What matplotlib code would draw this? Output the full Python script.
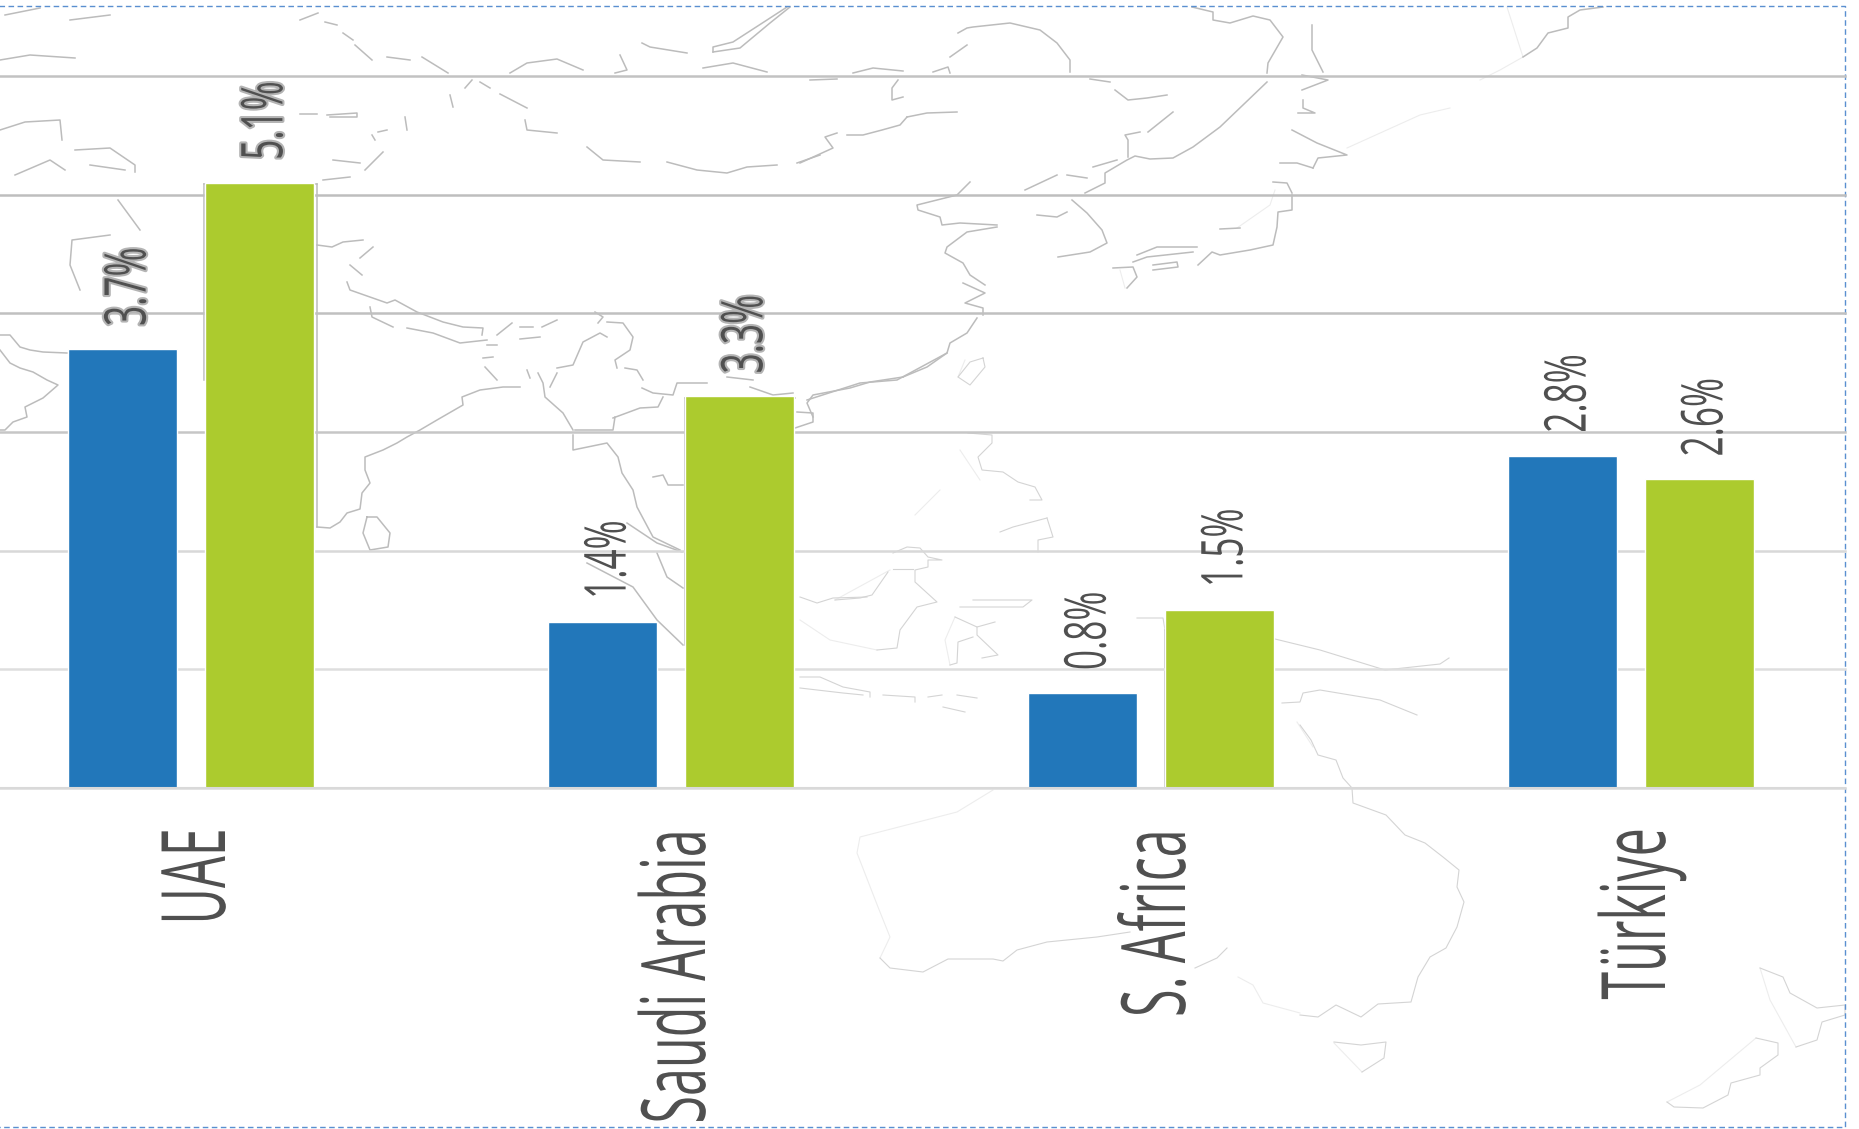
import numpy as np
import matplotlib
matplotlib.use("Agg")
import matplotlib.pyplot as plt
from matplotlib.patheffects import AbstractPathEffect
from matplotlib.transforms import Affine2D

countries = ["UAE", "Saudi Arabia", "S. Africa", "Türkiye"]
series_blue = [3.7, 1.4, 0.8, 2.8]
series_green = [5.1, 3.3, 1.5, 2.6]
y_ticks = [0, 1, 2, 3, 4, 5, 6]

BLUE = "#2277ba"
GREEN = "#accb2e"
TEXT = "#505050"
GRID_COLORS = ["#dcdcdc", "#dedede", "#d8d8d8", "#c6c6c6", "#c0c0c0", "#bebebe", "#c2c2c2"]

W, H = 1859, 1129

# coastlines behind the bars, in pixels of the figure
map_dark = [
    [(0, 335), (10, 335), (20, 347), (30, 350), (43, 352), (67, 353)],
    [(0, 350), (10, 363), (20, 368), (33, 372), (47, 380), (58, 385), (43, 398), (25, 407), (27, 417), (13, 422), (5, 430), (0, 430)],
    [(204, 184), (204, 380)], [(317, 184), (317, 527)], [(204, 184), (317, 184)],
    [(317, 527), (330, 528), (340, 522), (347, 513), (360, 509), (362, 493), (370, 483), (365, 470), (365, 457), (383, 450), (397, 443), (407, 437), (420, 430), (437, 420), (463, 405), (462, 397), (480, 390), (503, 387), (520, 387)],
    [(367, 517), (377, 517), (390, 533), (388, 547), (370, 550), (363, 533), (367, 517)],
    [(300, 20), (318, 13)], [(325, 22), (337, 25)], [(343, 33), (353, 40)], [(355, 45), (372, 60)],
    [(387, 57), (410, 60)], [(422, 57), (448, 73)], [(510, 73), (527, 63), (557, 59), (583, 70)],
    [(620, 55), (627, 70), (615, 73)], [(642, 43), (650, 47), (687, 53)],
    [(713, 52), (740, 48), (770, 23), (790, 7)], [(713, 52), (713, 47), (733, 42), (767, 20), (787, 7)],
    [(703, 68), (733, 63), (767, 72)], [(465, 88), (472, 80)], [(480, 82), (490, 88)], [(450, 95), (453, 107)],
    [(500, 94), (527, 108)], [(525, 120), (527, 130), (557, 133)], [(587, 147), (603, 160), (640, 162)],
    [(667, 162), (697, 170), (727, 173), (747, 167), (777, 165)], [(797, 163), (820, 155)],
    [(300, 114), (317, 114)], [(327, 115), (357, 113), (357, 117), (330, 117)], [(405, 117), (407, 130)],
    [(372, 135), (375, 140)], [(378, 132), (387, 130)], [(333, 160), (360, 163)], [(365, 170), (383, 152)],
    [(323, 180), (350, 177)], [(90, 165), (125, 170)], [(5, 15), (40, 8)], [(70, 20), (110, 15)],
    [(0, 60), (30, 55), (75, 58)], [(0, 130), (25, 122), (60, 120), (62, 140)], [(75, 150), (110, 148), (135, 165), (135, 172)],
    [(15, 175), (50, 160), (65, 170)], [(118, 200), (140, 230)], [(80, 290), (70, 265), (72, 240), (110, 235)],
    [(317, 245), (332, 247), (343, 242), (363, 240)], [(360, 258), (373, 247)], [(350, 265), (362, 275)],
    [(347, 282), (350, 290), (387, 303), (395, 300), (417, 312), (443, 322), (463, 327), (483, 328), (482, 335)],
    [(370, 307), (372, 317), (393, 327)], [(407, 328), (433, 333), (460, 343), (487, 340)], [(497, 335), (512, 323)],
    [(520, 327), (533, 327)], [(542, 327), (557, 320)], [(520, 339), (540, 337)], [(487, 345), (497, 345)],
    [(557, 368), (573, 365), (583, 342), (600, 333), (607, 337)], [(595, 312), (603, 317), (598, 323)],
    [(607, 322), (623, 323), (633, 337), (630, 350), (615, 360), (617, 368)], [(625, 368), (637, 370), (643, 380)],
    [(642, 388), (653, 393), (673, 395), (677, 383), (707, 383)], [(727, 377), (753, 380)], [(750, 387), (773, 395), (793, 393)],
    [(483, 358), (493, 357)], [(485, 367), (497, 380)], [(527, 370), (530, 378)],
    [(538, 373), (543, 383), (545, 397), (563, 413), (573, 430)], [(550, 387), (557, 373)],
    [(613, 418), (640, 408), (658, 407), (663, 397)],
    [(575, 430), (613, 430), (615, 417)],
    [(573, 435), (573, 450), (607, 443), (618, 457), (622, 473), (633, 490), (637, 507), (653, 537), (680, 550)],
    [(657, 553), (667, 577), (683, 588)], [(587, 563), (633, 587), (657, 620), (683, 645)], [(627, 523), (657, 543), (682, 552)],
    [(653, 477), (663, 475), (668, 485), (683, 485)], [(685, 398), (685, 645)], [(685, 398), (795, 398)],
    [(795, 428), (813, 422), (813, 413), (797, 412)], [(807, 400), (860, 383), (897, 380), (947, 353), (950, 343), (967, 333), (977, 318)],
    [(1192, 7), (1213, 12), (1213, 20), (1230, 23), (1253, 16), (1270, 20), (1283, 37), (1268, 63), (1267, 73)],
    [(1267, 82), (1220, 127), (1193, 147), (1173, 158), (1150, 159), (1135, 156), (1127, 160), (1105, 173), (1105, 183), (1085, 193)],
    [(1128, 157), (1128, 140), (1125, 135), (1140, 132)], [(1148, 132), (1173, 112)], [(1115, 90), (1128, 100), (1147, 98), (1167, 95)],
    [(1090, 79), (1110, 82)], [(958, 33), (967, 28), (973, 27), (1010, 23), (1040, 30), (1057, 43), (1070, 60), (1070, 72)],
    [(950, 57), (967, 45)], [(933, 72), (948, 67), (950, 73)], [(853, 73), (873, 68), (903, 71)], [(810, 80), (837, 79)],
    [(898, 80), (892, 88), (892, 100), (903, 97)], [(907, 117), (927, 113), (957, 112)],
    [(907, 117), (900, 125), (882, 130), (863, 135), (847, 135)], [(837, 133), (825, 137), (833, 148), (800, 163)],
    [(970, 182), (957, 195), (917, 205), (918, 210), (940, 217), (942, 225), (960, 223), (997, 225)],
    [(997, 227), (967, 232), (947, 247), (945, 253), (963, 263), (970, 275), (985, 285)],
    [(963, 283), (985, 293), (965, 303), (983, 308), (983, 315)],
    [(903, 377), (870, 382), (850, 388), (813, 395), (807, 403), (813, 417)], [(947, 353), (927, 367), (903, 377)],
    [(1072, 200), (1087, 213), (1102, 230), (1107, 243), (1090, 252), (1058, 257)],
    [(1037, 215), (1057, 217), (1067, 212)], [(1025, 190), (1057, 175)], [(1067, 175), (1087, 178)], [(1093, 167), (1117, 160)],
    [(1292, 195), (1292, 210), (1278, 212), (1277, 227), (1273, 245), (1250, 250), (1220, 255), (1212, 252), (1198, 265)],
    [(1193, 252), (1147, 257), (1133, 262)], [(1197, 247), (1157, 247), (1137, 255)],
    [(1113, 268), (1133, 267), (1137, 277), (1127, 288)], [(1153, 270), (1178, 267), (1177, 262), (1153, 265)],
    [(1220, 229), (1240, 228)], [(1273, 182), (1287, 183), (1292, 193)],
    [(1312, 25), (1312, 50), (1323, 72)], [(1302, 75), (1328, 80), (1302, 90)], [(1303, 100), (1303, 108), (1315, 113), (1298, 113)],
    [(1292, 130), (1317, 143), (1347, 155), (1318, 158), (1313, 168)], [(1280, 163), (1297, 163), (1313, 168)],
    [(1603, 7), (1580, 10), (1568, 17), (1568, 28), (1548, 33), (1537, 48), (1523, 57)],
    [(1165, 630), (1165, 787)], [(1130, 787), (1130, 770), (1100, 770)],
]
map_mid = [
    [(983, 358), (970, 362), (958, 377), (970, 385), (985, 367), (983, 358)],
    [(968, 433), (992, 435), (992, 443), (978, 457), (982, 470), (1003, 472), (1018, 482), (1035, 487), (1042, 500), (1030, 500)],
    [(1047, 518), (1053, 537), (1038, 540), (1038, 552)], [(1000, 532), (1013, 527), (1047, 518)],
    [(893, 553), (907, 547), (920, 548), (928, 557), (942, 560), (928, 560), (928, 567), (915, 570), (915, 582), (937, 602), (917, 607), (900, 630), (897, 648), (877, 650)],
    [(893, 569), (913, 569)], [(888, 572), (872, 595), (860, 598), (835, 600)], [(800, 597), (817, 603), (833, 598), (867, 597)],
    [(960, 607), (1023, 607), (1032, 600), (973, 600)], [(955, 617), (977, 627), (995, 622)],
    [(977, 627), (977, 635), (998, 655), (982, 658)], [(973, 637), (958, 642), (957, 663), (950, 665)],
    [(800, 677), (820, 677), (843, 687), (870, 692), (870, 697)], [(800, 688), (843, 693), (863, 695)],
    [(883, 695), (915, 697), (915, 702)], [(928, 697), (942, 695)], [(957, 695), (977, 698)], [(943, 707), (965, 712)],
    [(1137, 618), (1163, 618), (1165, 630)], [(1275, 639), (1320, 650), (1385, 670), (1440, 664), (1449, 658)],
    [(1282, 703), (1300, 702), (1303, 693), (1320, 690), (1380, 700), (1417, 715)],
    [(1300, 725), (1311, 740), (1318, 755), (1336, 760), (1343, 778), (1352, 788), (1353, 803), (1386, 815), (1405, 835), (1425, 843), (1443, 857), (1459, 870), (1457, 887), (1464, 902), (1457, 927), (1446, 948), (1430, 957), (1418, 977), (1411, 1002), (1378, 1004), (1361, 1017), (1336, 1005), (1318, 1017), (1300, 1015)],
    [(1227, 948), (1217, 958), (1195, 968)],
    [(880, 958), (890, 968), (923, 972), (948, 959), (993, 959), (1003, 961), (1017, 950), (1047, 942), (1097, 937), (1130, 932)],
    [(1667, 1102), (1674, 1107), (1703, 1108), (1728, 1095), (1731, 1083), (1760, 1075), (1760, 1068), (1778, 1055), (1778, 1043), (1756, 1038)],
    [(1760, 968), (1783, 977), (1790, 993), (1817, 1008), (1845, 1005), (1845, 1015), (1822, 1022), (1817, 1040), (1796, 1047)],
    [(1334, 1042), (1361, 1045), (1386, 1042), (1384, 1058), (1362, 1072)],
]
map_faint = [
    [(880, 958), (890, 937), (878, 907), (857, 853), (860, 837), (957, 812), (993, 790)],
    [(1238, 977), (1253, 985), (1263, 1003), (1300, 1013)],
    [(1297, 722), (1313, 747)],
    [(1334, 1043), (1362, 1072)],
    [(1507, 7), (1523, 57), (1500, 70), (1480, 80)],
    [(1347, 148), (1420, 115), (1450, 108)],
    [(1667, 1102), (1700, 1085), (1756, 1038)],
    [(1760, 968), (1770, 1000), (1796, 1047)],
    [(1237, 228), (1270, 205), (1275, 190)],
    [(1120, 270), (1125, 288)],
    [(958, 377), (965, 360)],
    [(800, 620), (830, 640), (877, 650)],
    [(835, 600), (890, 570)],
    [(955, 617), (945, 640), (950, 665)],
    [(940, 490), (915, 515)],
    [(960, 450), (980, 480)],
]


class Squeezed(AbstractPathEffect):
    """Scale the glyphs along the reading direction, keeping one end fixed."""

    def __init__(self, sx, pivot="start", outline=None):
        super().__init__()
        self.sx = sx
        self.pivot = pivot
        self.outline = outline

    def draw_path(self, renderer, gc, tpath, affine, rgbFace=None):
        x0 = tpath.get_extents().x1 if self.pivot == "end" else 0
        squeeze = Affine2D().translate(-x0, 0).scale(self.sx, 1).translate(x0, 0)
        if self.outline:
            gc0 = renderer.new_gc()
            gc0.copy_properties(gc)
            gc0.set_foreground(self.outline)
            gc0.set_linewidth(3)
            renderer.draw_path(gc0, tpath, squeeze + affine, None)
            gc0.restore()
        renderer.draw_path(gc, tpath, squeeze + affine, rgbFace)


def draw_map(fig):
    ax = fig.add_axes([0, 0, 1, 1], zorder=0)
    ax.set_xlim(0, W)
    ax.set_ylim(H, 0)
    ax.axis("off")
    for lines, color, lw in [(map_faint, "#ededed", 0.8), (map_mid, "#d4d4d4", 0.8), (map_dark, "#bcbcbc", 1.1)]:
        for line in lines:
            xs, ys = zip(*line)
            ax.plot(xs, ys, color=color, lw=lw, solid_joinstyle="round")
    # dashed frame, its left side lies off the canvas
    ax.plot([-10, 1845, 1845, -10], [6, 6, 1127, 1127], color="#5a8fd0", lw=1.0, ls=(0, (4, 2.5)), clip_on=False)


def draw_bars(fig):
    # one category slot is 480 px wide, the first one starts off the canvas
    ax = fig.add_axes([0, (H - 788) / H, 1845 / W, 712 / H], zorder=1)
    ax.patch.set_alpha(0)
    ax.set_xlim(-191 / 480, (1845 - 191) / 480)
    ax.set_ylim(0, 6)

    x = np.arange(len(countries))
    bars_blue = ax.bar(x - 0.1425, series_blue, 0.228, color=BLUE, edgecolor="white", linewidth=1.0, zorder=3)
    bars_green = ax.bar(x + 0.1425, series_green, 0.228, color=GREEN, edgecolor="white", linewidth=1.0, zorder=3)

    ax.set_yticks(y_ticks)
    ax.set_xticks([])
    ax.tick_params(left=False, labelleft=False)
    ax.grid(axis="y", linewidth=1.8)
    ax.set_axisbelow(True)
    for line, color in zip(ax.get_ygridlines(), GRID_COLORS):
        line.set_color(color)
        line.set_clip_on(False)
    for name, spine in ax.spines.items():
        spine.set_visible(name == "bottom")
    ax.spines["bottom"].set_color("#d9d9d9")
    ax.spines["bottom"].set_linewidth(1.5)
    ax.spines["bottom"].set_zorder(5)

    # value labels start just above each bar, read upwards
    outlined = [3.7, 5.1, 3.3]
    for bars, values in [(bars_blue, series_blue), (bars_green, series_green)]:
        for bar, value in zip(bars, values):
            effect = Squeezed(0.61, outline="#b4b4b4" if value in outlined else None)
            ax.annotate(f"{value:.1f}%", (bar.get_x() + bar.get_width() / 2, value),
                        xytext=(23, 23), textcoords="offset pixels",
                        rotation=90, rotation_mode="anchor", ha="left", va="baseline",
                        fontsize=41.5, family="Open Sans", color=TEXT, annotation_clip=False,
                        path_effects=[effect])

    # category labels end below the axis
    for i, name in enumerate(countries):
        ax.annotate(name, (i, 0), xytext=(34, -38), textcoords="offset pixels",
                    rotation=90, rotation_mode="anchor", ha="right", va="baseline",
                    fontsize=64, family="Open Sans", color=TEXT, annotation_clip=False,
                    path_effects=[Squeezed(0.565, pivot="end")])


def main():
    fig = plt.figure(figsize=(W / 100, H / 100), dpi=100, facecolor="white")
    draw_map(fig)
    draw_bars(fig)
    fig.savefig("out.png", dpi=100)


if __name__ == "__main__":
    main()
